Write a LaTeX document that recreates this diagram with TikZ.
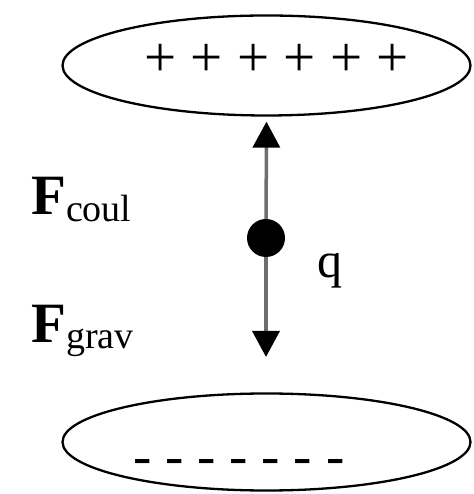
\documentclass[tikz,border=0pt]{standalone}
\usepackage{fontspec}
\setmainfont{Liberation Serif}
\usetikzlibrary{arrows.meta,shapes.geometric}
\definecolor{linegray}{RGB}{110,110,110}
\begin{document}
\begin{tikzpicture}[x=1pt,y=1pt,
  plate/.style={ellipse, draw=black, line width=2.3pt, minimum width=408pt, minimum height=100pt, inner sep=0pt},
  chargetxt/.style={font=\fontsize{57}{60}\selectfont, inner sep=0pt, anchor=base},
  forcearrow/.style={draw=linegray, line width=3.5pt, -{Triangle[length=26pt,width=27pt,color=black]}},
  lbl/.style={inner sep=0pt, anchor=base west, font=\fontsize{57}{60}\selectfont}]
\useasboundingbox (0,0) rectangle (473,494);
\node[plate] (top) at (266.5,428.5) {};
\node[plate, minimum height=97pt] (bottom) at (266.5,52) {};
\node[chargetxt] (plus) at (276.5,417) {+ + + + + +};
\node[chargetxt, font=\fontsize{55}{58}\selectfont] (minus) at (239,19) {- - - - - - -};
\node[circle, fill=black, minimum size=38pt, inner sep=0pt] (q) at (266,256) {};
\coordinate (gravtip) at (266,137);
\draw[forcearrow, shorten >=5pt] (q) -- (top.south);
\draw[forcearrow] (q) -- (gravtip);
\node[lbl] (fcoul) at (31,279) {\textbf{F}\raisebox{-7pt}{\fontsize{38}{40}\selectfont coul}};
\node[lbl] (fgrav) at (31,151) {\textbf{F}\raisebox{-6pt}{\fontsize{38}{40}\selectfont grav}};
\node[lbl, font=\fontsize{50}{54}\selectfont] (qlbl) at (317,216) {q};
\end{tikzpicture}
\end{document}
